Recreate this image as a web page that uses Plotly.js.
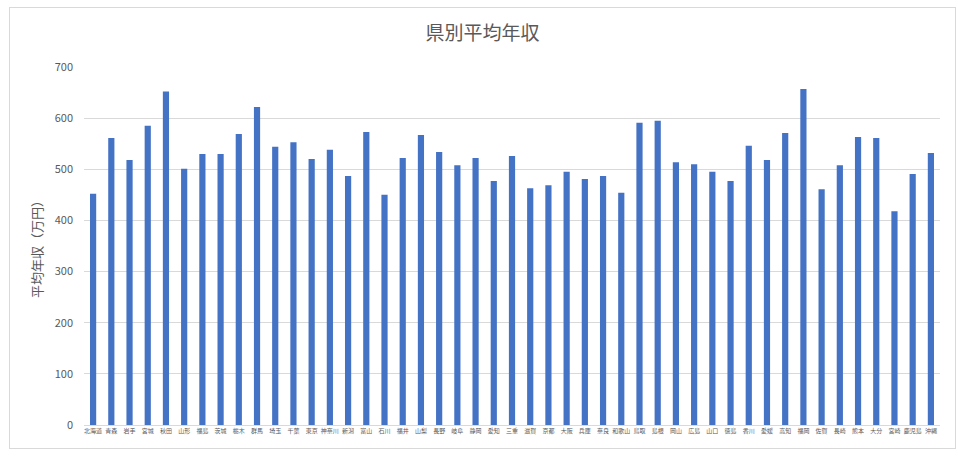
<!DOCTYPE html>
<html>
<head>
<meta charset="utf-8">
<script src="https://cdn.plot.ly/plotly-3.0.1.min.js"></script>
<style>
  html, body { margin: 0; padding: 0; background: #fff; }
  #wrap { position: relative; width: 965px; height: 457px; }
  #chart { width: 965px; height: 457px; }
  #frame {
    position: absolute; left: 9px; top: 7px; width: 945px; height: 440px;
    border: 1px solid #d9d9d9; pointer-events: none;
  }
</style>
</head>
<body>
<div id="wrap">
  <div id="chart"></div>
  <div id="frame"></div>
</div>
<script>
// 都道府県
const PREFS = [
    '北海道', '青森', '岩手', '宮城', '秋田', '山形', '福島', '茨城', '栃木', '群馬',
    '埼玉', '千葉', '東京', '神奈川', '新潟', '富山', '石川', '福井', '山梨', '長野',
    '岐阜', '静岡', '愛知', '三重', '滋賀', '京都', '大阪', '兵庫', '奈良', '和歌山',
    '鳥取', '島根', '岡山', '広島', '山口', '徳島', '香川', '愛媛', '高知', '福岡',
    '佐賀', '長崎', '熊本', '大分', '宮崎', '鹿児島', '沖縄'
];

// 平均年収（万円）
const INCOME = [
    452, 561, 518, 585, 652, 501, 530, 530, 569, 622,
    544, 553, 520, 538, 487, 573, 450, 522, 567, 534,
    508, 522, 477, 526, 463, 469, 495, 481, 487, 454,
    591, 595, 514, 510, 495, 477, 546, 518, 571, 657,
    461, 508, 563, 561, 418, 491, 532
];

const Y_TICKS = [0, 100, 200, 300, 400, 500, 600, 700];

const FONT = '"Noto Sans CJK JP", "Noto Sans", sans-serif';
const GREY = '#595959';

const trace = {
    type: 'bar',
    x: PREFS,
    y: INCOME,
    marker: { color: '#4472c4' },
    hoverinfo: 'x+y'
};

const layout = {
    width: 965, height: 457,
    margin: { t: 67, b: 32, l: 84, r: 25 },
    paper_bgcolor: '#fff',
    plot_bgcolor: '#fff',
    font: { family: FONT, color: GREY },
    title: {
        text: '県別平均年収',
        font: { size: 19, color: GREY, family: FONT },
        x: 0.5, xanchor: 'center', y: 0.928, yanchor: 'middle'
    },
    bargap: 0.66,
    showlegend: false,
    xaxis: {
        type: 'category',
        tickfont: { size: 6, color: GREY },
        tickangle: 0,
        showline: true, linecolor: '#d9d9d9', linewidth: 1,
        ticks: '', showgrid: false
    },
    yaxis: {
        range: [0, 700],
        tickvals: Y_TICKS,
        tickfont: { size: 11, color: GREY },
        gridcolor: '#d9d9d9', gridwidth: 1,
        zeroline: false, showline: false, ticks: '',
        ticklabelstandoff: 10,
        title: {
            text: '平均年収（万円）',
            font: { size: 13, color: GREY },
            standoff: 9
        }
    }
};

Plotly.newPlot('chart', [trace], layout, { displayModeBar: false, staticPlot: true });
</script>
</body>
</html>
